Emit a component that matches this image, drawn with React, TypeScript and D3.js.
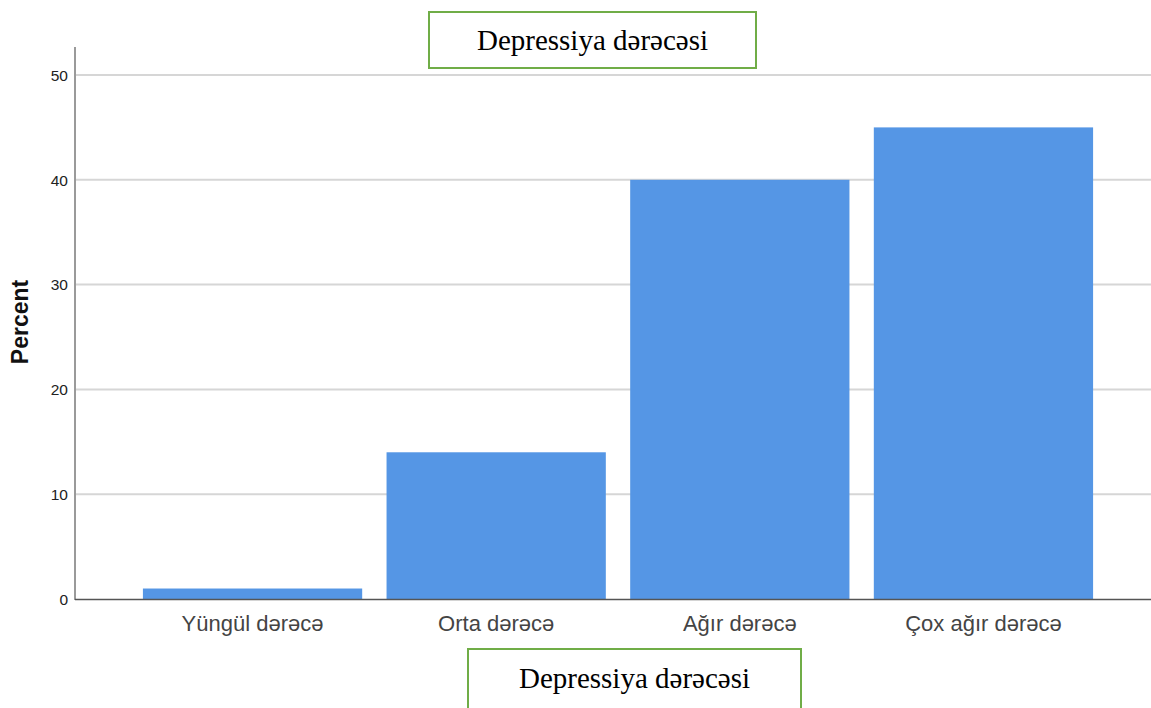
import React from "react";
import * as d3 from "d3";

const categories = ["Yüngül dərəcə", "Orta dərəcə", "Ağır dərəcə", "Çox ağır dərəcə"];
const percents = [1, 14, 40, 45];
const yTicks = [0, 10, 20, 30, 40, 50];
const titleText = "Depressiya dərəcəsi";
const yLabel = "Percent";

export default function App() {
  const W = 1151, H = 708;
  const y = d3.scaleLinear().domain([0, 50]).range([599, 75]);
  const x = d3.scaleBand<string>().domain(categories).range([82, 1154]).paddingInner(0.1).paddingOuter(0.25);
  const axisX = 75;
  return (
    <svg width={W} height={H} style={{ position: "absolute", left: 0, top: 0, background: "#fff" }}>
      {yTicks.filter(t => t > 0).map(t => (
        <line key={t} x1={axisX} x2={W} y1={y(t)} y2={y(t)} stroke="#d6d6d6" strokeWidth={2} />
      ))}
      {categories.map((c, i) => (
        <rect key={c} x={x(c)} y={y(percents[i])} width={x.bandwidth()} height={y(0) - y(percents[i])} fill="#5596E5" />
      ))}
      <line x1={axisX} x2={axisX} y1={47} y2={600} stroke="#9a9a9a" strokeWidth={2} />
      <line x1={axisX} x2={W} y1={599.5} y2={599.5} stroke="#555" strokeWidth={1.5} />
      {yTicks.map(t => (
        <text key={t} x={68} y={y(t)} dy="0.37em" textAnchor="end" fontFamily="Liberation Sans, Arial, sans-serif" fontSize={15.5} fill="#222">{t}</text>
      ))}
      {categories.map(c => (
        <text key={c} x={(x(c) as number) + x.bandwidth() / 2} y={631} textAnchor="middle" fontFamily="Liberation Sans, Arial, sans-serif" fontSize={22} fill="#444">{c}</text>
      ))}
      <text transform="translate(28,322) rotate(-90)" textAnchor="middle" fontFamily="Liberation Sans, Arial, sans-serif" fontSize={23} fontWeight="bold" fill="#111">{yLabel}</text>
      <rect x={429} y={12} width={327} height={56} fill="#fff" stroke="#70AD47" strokeWidth={2} />
      <text x={592.5} y={50} textAnchor="middle" fontFamily="Liberation Serif, Times New Roman, serif" fontSize={29} fill="#000">{titleText}</text>
      <rect x={468} y={649} width={333} height={70} fill="#fff" stroke="#70AD47" strokeWidth={2} />
      <text x={634.5} y={688} textAnchor="middle" fontFamily="Liberation Serif, Times New Roman, serif" fontSize={29} fill="#000">{titleText}</text>
    </svg>
  );
}
